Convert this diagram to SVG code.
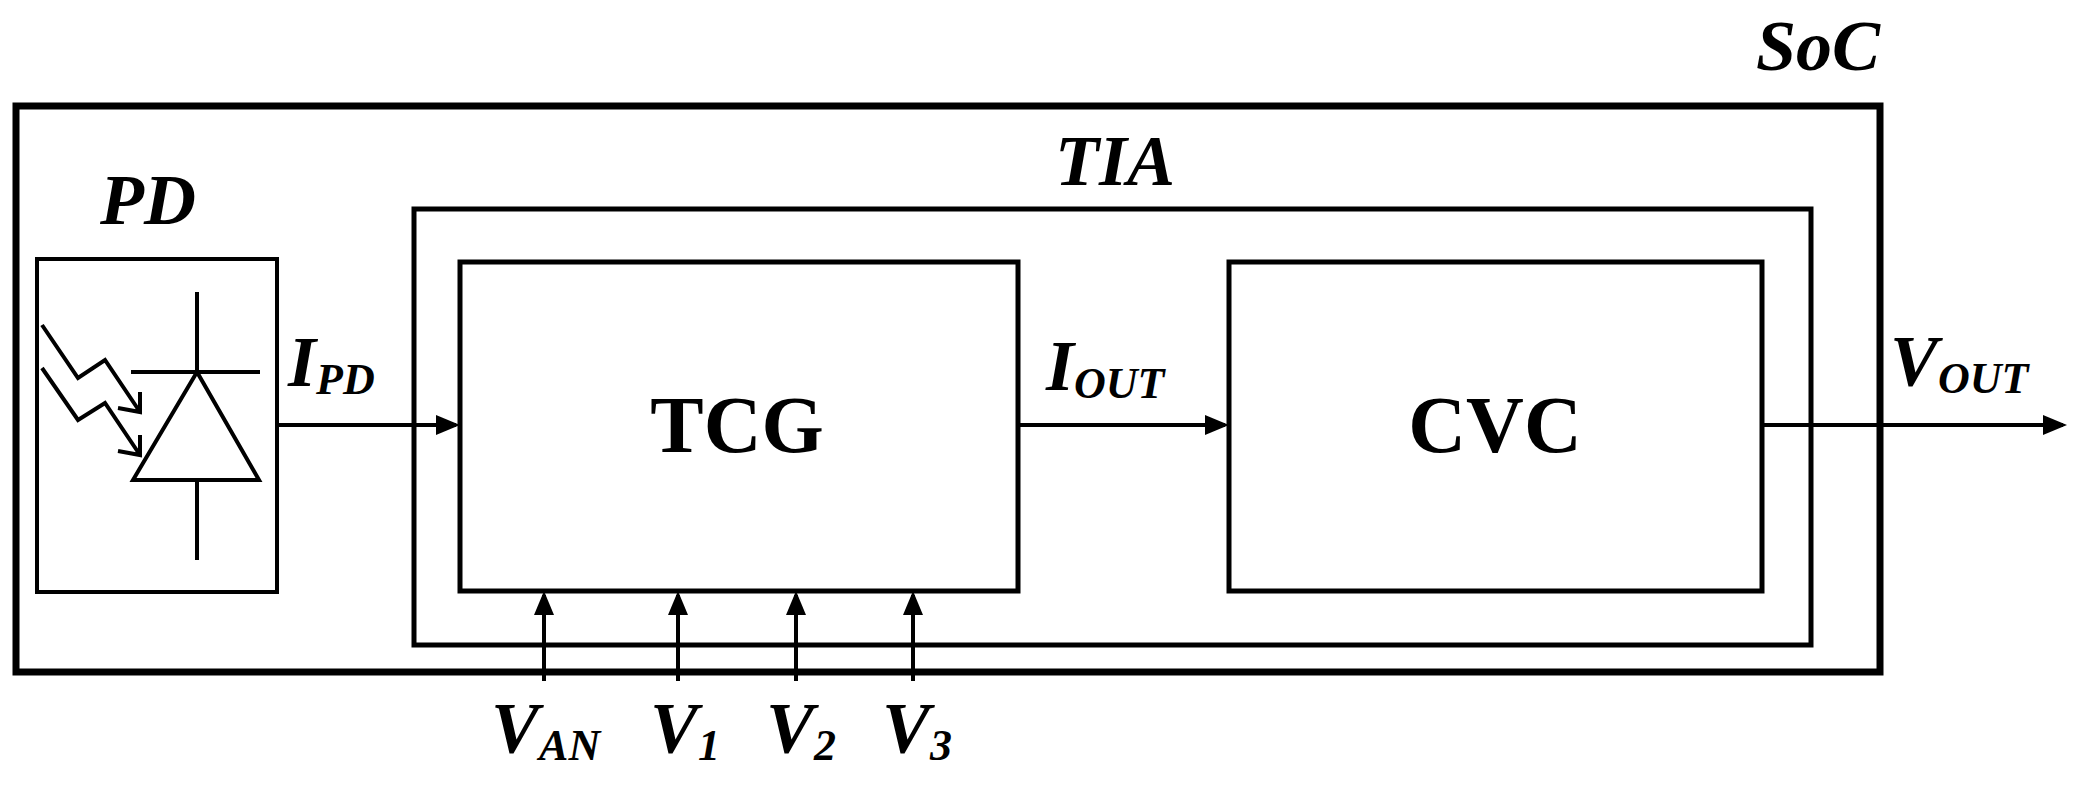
<svg xmlns="http://www.w3.org/2000/svg" width="2081" height="786" viewBox="0 0 2081 786">
<style>
.b{fill:none;stroke:#000}
.t{font-family:"Liberation Serif","Times New Roman",serif;font-weight:700;font-style:italic;font-size:72px}
.s{font-size:44px}
.n{font-family:"Liberation Serif","Times New Roman",serif;font-weight:700;font-size:80px}
</style>
<defs><marker id="a" markerWidth="6" markerHeight="6" refX="5" refY="3" orient="auto" markerUnits="strokeWidth"><path d="M0,0.5L6,3L0,5.5z"/></marker></defs>
<rect width="2081" height="786" fill="#fff"/>
<g id="soc"><rect class="b" x="16" y="106" width="1864" height="566" stroke-width="7"/><text class="t" x="1880" y="70" text-anchor="end">SoC</text></g>
<g id="pd"><rect class="b" x="37" y="259" width="240" height="333" stroke-width="4"/>
<path class="b" stroke-width="4" d="M197,292V372M131,372H260M197,372L133,480H259ZM197,480V560"/>
<path class="b" stroke-width="4" d="M42,325L78,378L105,360L140,412M42,368L78,420L105,403L140,455M118,408L140,412L140,392M118,451L140,455L140,435"/>
<text class="t" x="100" y="224">PD</text></g>
<g id="tia"><rect class="b" x="414" y="209" width="1397" height="436" stroke-width="5"/><text class="t" x="1115" y="185" text-anchor="middle">TIA</text></g>
<g id="tcg"><rect class="b" x="460" y="262" width="558" height="329" stroke-width="5"/><text class="n" x="737" y="452" text-anchor="middle">TCG</text></g>
<g id="cvc"><rect class="b" x="1229" y="262" width="533" height="329" stroke-width="5"/><text class="n" x="1495" y="452" text-anchor="middle">CVC</text></g>
<g id="connectors" class="b" stroke-width="4">
<path d="M277,425H456" marker-end="url(#a)"/>
<path d="M1018,425H1225" marker-end="url(#a)"/>
<path d="M1762,425H2063" marker-end="url(#a)"/>
<path d="M544,681V595" marker-end="url(#a)"/>
<path d="M678,681V595" marker-end="url(#a)"/>
<path d="M796,681V595" marker-end="url(#a)"/>
<path d="M913,681V595" marker-end="url(#a)"/>
</g>
<g id="labels">
<text class="t" x="288" y="386">I<tspan class="s" dy="8">PD</tspan></text>
<text class="t" x="1046" y="390">I<tspan class="s" dy="8">OUT</tspan></text>
<text class="t" x="1890" y="385">V<tspan class="s" dy="8">OUT</tspan></text>
<text class="t" x="491" y="752">V<tspan class="s" dy="8">AN</tspan></text>
<text class="t" x="650" y="752">V<tspan class="s" dy="8">1</tspan></text>
<text class="t" x="766" y="752">V<tspan class="s" dy="8">2</tspan></text>
<text class="t" x="882" y="752">V<tspan class="s" dy="8">3</tspan></text>
</g>
</svg>
